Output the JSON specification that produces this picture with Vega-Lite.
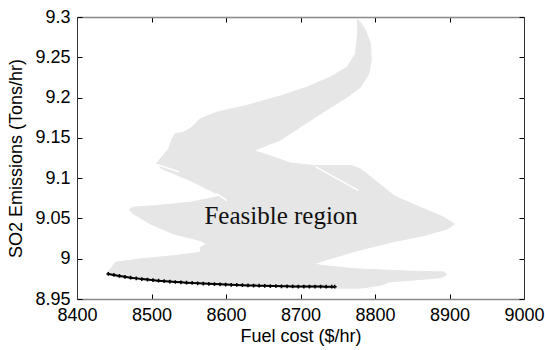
{
  "$schema": "https://vega.github.io/schema/vega-lite/v6.json",
  "width": 447,
  "height": 282,
  "autosize": {"type": "none"},
  "padding": {"left": 77, "top": 17, "right": 21, "bottom": 51},
  "background": "white",
  "config": {"view": {"stroke": null}},
  "datasets": {
    "region": [
      {"order": 1, "x": 8776.5, "y": 9.2978},
      {"order": 2, "x": 8776.9, "y": 9.2794},
      {"order": 3, "x": 8773.8, "y": 9.2545},
      {"order": 4, "x": 8762.7, "y": 9.2379},
      {"order": 5, "x": 8740.2, "y": 9.2254},
      {"order": 6, "x": 8708.9, "y": 9.2130},
      {"order": 7, "x": 8673.1, "y": 9.2021},
      {"order": 8, "x": 8628.3, "y": 9.1903},
      {"order": 9, "x": 8588.0, "y": 9.1819},
      {"order": 10, "x": 8565.6, "y": 9.1737},
      {"order": 11, "x": 8554.5, "y": 9.1633},
      {"order": 12, "x": 8543.2, "y": 9.1571},
      {"order": 13, "x": 8532.0, "y": 9.1551},
      {"order": 14, "x": 8527.6, "y": 9.1489},
      {"order": 15, "x": 8523.0, "y": 9.1364},
      {"order": 16, "x": 8511.9, "y": 9.1240},
      {"order": 17, "x": 8506.5, "y": 9.1178},
      {"order": 18, "x": 8514.2, "y": 9.1116},
      {"order": 19, "x": 8552.2, "y": 9.0970},
      {"order": 20, "x": 8588.0, "y": 9.0805},
      {"order": 21, "x": 8595.2, "y": 9.0784},
      {"order": 22, "x": 8583.5, "y": 9.0759},
      {"order": 23, "x": 8552.2, "y": 9.0701},
      {"order": 24, "x": 8507.5, "y": 9.0660},
      {"order": 25, "x": 8473.9, "y": 9.0638},
      {"order": 26, "x": 8470.2, "y": 9.0604},
      {"order": 27, "x": 8476.0, "y": 9.0556},
      {"order": 28, "x": 8498.5, "y": 9.0432},
      {"order": 29, "x": 8529.8, "y": 9.0308},
      {"order": 30, "x": 8565.6, "y": 9.0225},
      {"order": 31, "x": 8574.6, "y": 9.0184},
      {"order": 32, "x": 8565.6, "y": 9.0141},
      {"order": 33, "x": 8565.6, "y": 9.0079},
      {"order": 34, "x": 8529.8, "y": 9.0038},
      {"order": 35, "x": 8485.0, "y": 8.9997},
      {"order": 36, "x": 8451.4, "y": 8.9955},
      {"order": 37, "x": 8447.4, "y": 8.9901},
      {"order": 38, "x": 8439.4, "y": 8.9808},
      {"order": 39, "x": 8458.2, "y": 8.9759},
      {"order": 40, "x": 8511.9, "y": 8.9721},
      {"order": 41, "x": 8579.1, "y": 8.9684},
      {"order": 42, "x": 8646.2, "y": 8.9659},
      {"order": 43, "x": 8744.3, "y": 8.9634},
      {"order": 44, "x": 8780.5, "y": 8.9634},
      {"order": 45, "x": 8807.4, "y": 8.9672},
      {"order": 46, "x": 8820.8, "y": 8.9715},
      {"order": 47, "x": 8856.7, "y": 8.9740},
      {"order": 48, "x": 8888.0, "y": 8.9765},
      {"order": 49, "x": 8896.1, "y": 8.9802},
      {"order": 50, "x": 8892.4, "y": 8.9836},
      {"order": 51, "x": 8843.3, "y": 8.9846},
      {"order": 52, "x": 8776.1, "y": 8.9873},
      {"order": 53, "x": 8731.2, "y": 8.9914},
      {"order": 54, "x": 8717.8, "y": 8.9935},
      {"order": 55, "x": 8731.2, "y": 8.9976},
      {"order": 56, "x": 8776.1, "y": 9.0100},
      {"order": 57, "x": 8820.8, "y": 9.0203},
      {"order": 58, "x": 8865.6, "y": 9.0287},
      {"order": 59, "x": 8897.0, "y": 9.0370},
      {"order": 60, "x": 8906.8, "y": 9.0430},
      {"order": 61, "x": 8892.4, "y": 9.0514},
      {"order": 62, "x": 8865.6, "y": 9.0619},
      {"order": 63, "x": 8834.3, "y": 9.0743},
      {"order": 64, "x": 8825.3, "y": 9.0784},
      {"order": 65, "x": 8803.0, "y": 9.0949},
      {"order": 66, "x": 8780.5, "y": 9.1116},
      {"order": 67, "x": 8767.1, "y": 9.1157},
      {"order": 68, "x": 8717.8, "y": 9.1157},
      {"order": 69, "x": 8686.5, "y": 9.1188},
      {"order": 70, "x": 8659.6, "y": 9.1275},
      {"order": 71, "x": 8637.5, "y": 9.1343},
      {"order": 72, "x": 8673.1, "y": 9.1474},
      {"order": 73, "x": 8708.9, "y": 9.1691},
      {"order": 74, "x": 8740.2, "y": 9.1878},
      {"order": 75, "x": 8762.7, "y": 9.2006},
      {"order": 76, "x": 8780.5, "y": 9.2130},
      {"order": 77, "x": 8791.7, "y": 9.2297},
      {"order": 78, "x": 8794.9, "y": 9.2462},
      {"order": 79, "x": 8794.0, "y": 9.2669},
      {"order": 80, "x": 8787.2, "y": 9.2835},
      {"order": 81, "x": 8780.5, "y": 9.2934}
    ],
    "streaks": [
      {"seg": "a", "x": 8507, "y": 9.117},
      {"seg": "a", "x": 8537, "y": 9.108},
      {"seg": "b", "x": 8720, "y": 9.1144},
      {"seg": "b", "x": 8778, "y": 9.0846},
      {"seg": "c", "x": 8587, "y": 9.081},
      {"seg": "c", "x": 8601, "y": 9.072}
    ],
    "front": [
      {"x": 8442, "y": 8.9811},
      {"x": 8449.5, "y": 8.9798},
      {"x": 8457, "y": 8.9786},
      {"x": 8464.5, "y": 8.9775},
      {"x": 8472, "y": 8.9765},
      {"x": 8479.5, "y": 8.9756},
      {"x": 8487, "y": 8.9748},
      {"x": 8494.5, "y": 8.9741},
      {"x": 8502, "y": 8.9734},
      {"x": 8509.5, "y": 8.9727},
      {"x": 8517, "y": 8.9721},
      {"x": 8524.5, "y": 8.9716},
      {"x": 8532, "y": 8.9711},
      {"x": 8539.5, "y": 8.9707},
      {"x": 8547, "y": 8.9703},
      {"x": 8554.5, "y": 8.9699},
      {"x": 8562, "y": 8.9695},
      {"x": 8569.5, "y": 8.9691},
      {"x": 8577, "y": 8.9688},
      {"x": 8584.5, "y": 8.9685},
      {"x": 8592, "y": 8.9682},
      {"x": 8599.5, "y": 8.9679},
      {"x": 8607, "y": 8.9676},
      {"x": 8614.5, "y": 8.9674},
      {"x": 8622, "y": 8.9671},
      {"x": 8629.5, "y": 8.9669},
      {"x": 8637, "y": 8.9667},
      {"x": 8644.5, "y": 8.9665},
      {"x": 8652, "y": 8.9663},
      {"x": 8659.5, "y": 8.9661},
      {"x": 8667, "y": 8.966},
      {"x": 8674.5, "y": 8.9658},
      {"x": 8682, "y": 8.9657},
      {"x": 8689.5, "y": 8.9656},
      {"x": 8697, "y": 8.9655},
      {"x": 8704.5, "y": 8.9655},
      {"x": 8712, "y": 8.9654},
      {"x": 8719.5, "y": 8.9654},
      {"x": 8727, "y": 8.9654},
      {"x": 8734.5, "y": 8.9653},
      {"x": 8742, "y": 8.9653},
      {"x": 8746, "y": 8.9653}
    ],
    "label": [
      {"text": "Feasible region", "x": 8674, "y": 9.043}
    ]
  },
  "resolve": {"axis": {"x": "independent", "y": "independent"}},
  "layer": [
    {
      "data": {"name": "region"},
      "mark": {"type": "line", "fill": "#e6e6e6", "stroke": "#e6e6e6", "strokeWidth": 1},
      "encoding": {
        "x": {
          "field": "x", "type": "quantitative",
          "scale": {"domain": [8400, 9000], "nice": false, "zero": false},
          "axis": {
            "orient": "bottom", "title": "Fuel cost ($/hr)", "format": "d",
            "values": [8400, 8500, 8600, 8700, 8800, 8900, 9000],
            "grid": false, "tickSize": -5, "tickColor": "#000", "tickWidth": 1,
            "domainColor": "#888", "domainWidth": 1.5,
            "labelFont": "Liberation Sans", "labelFontSize": 18, "labelColor": "#000",
            "labelPadding": 12, "labelFlush": false, "labelOverlap": false,
            "titleFont": "Liberation Sans", "titleFontSize": 18, "titleFontWeight": "normal",
            "titleColor": "#000", "titlePadding": 3
          }
        },
        "y": {
          "field": "y", "type": "quantitative",
          "scale": {"domain": [8.95, 9.3], "nice": false, "zero": false},
          "axis": {
            "orient": "left", "title": "SO2 Emissions (Tons/hr)", "format": "~g",
            "values": [8.95, 9, 9.05, 9.1, 9.15, 9.2, 9.25, 9.3],
            "grid": false, "tickSize": -5, "tickColor": "#000", "tickWidth": 1,
            "domainColor": "#333", "domainWidth": 1,
            "labelFont": "Liberation Sans", "labelFontSize": 18, "labelColor": "#000",
            "labelPadding": 12, "labelFlush": false, "labelOverlap": false,
            "titleFont": "Liberation Sans", "titleFontSize": 18, "titleFontWeight": "normal",
            "titleColor": "#000", "titlePadding": 9
          }
        },
        "order": {"field": "order", "type": "quantitative"}
      }
    },
    {
      "data": {"name": "streaks"},
      "mark": {"type": "line", "stroke": "white", "strokeWidth": 1.5},
      "encoding": {
        "x": {
          "field": "x", "type": "quantitative",
          "scale": {"domain": [8400, 9000], "nice": false, "zero": false},
          "axis": {
            "orient": "top", "title": null, "labels": false,
            "values": [8400, 8500, 8600, 8700, 8800, 8900, 9000],
            "grid": false, "tickSize": -5, "tickColor": "#000", "tickWidth": 1,
            "domainColor": "#888", "domainWidth": 1.5
          }
        },
        "y": {
          "field": "y", "type": "quantitative",
          "scale": {"domain": [8.95, 9.3], "nice": false, "zero": false},
          "axis": {
            "orient": "right", "title": null, "labels": false,
            "values": [8.95, 9, 9.05, 9.1, 9.15, 9.2, 9.25, 9.3],
            "grid": false, "tickSize": -5, "tickColor": "#000", "tickWidth": 1,
            "domainColor": "#333", "domainWidth": 1
          }
        },
        "detail": {"field": "seg", "type": "nominal"}
      }
    },
    {
      "data": {"name": "front"},
      "mark": {"type": "line", "stroke": "black", "strokeWidth": 2},
      "encoding": {
        "x": {"field": "x", "type": "quantitative", "scale": {"domain": [8400, 9000], "nice": false, "zero": false}, "axis": null},
        "y": {"field": "y", "type": "quantitative", "scale": {"domain": [8.95, 9.3], "nice": false, "zero": false}, "axis": null}
      }
    },
    {
      "data": {"name": "front"},
      "mark": {"type": "point", "shape": "cross", "filled": true, "color": "black", "size": 14, "opacity": 1},
      "encoding": {
        "x": {"field": "x", "type": "quantitative", "scale": {"domain": [8400, 9000], "nice": false, "zero": false}, "axis": null},
        "y": {"field": "y", "type": "quantitative", "scale": {"domain": [8.95, 9.3], "nice": false, "zero": false}, "axis": null}
      }
    },
    {
      "data": {"name": "label"},
      "mark": {"type": "text", "font": "Liberation Serif", "fontSize": 25, "color": "#111", "align": "center", "baseline": "alphabetic"},
      "encoding": {
        "x": {"field": "x", "type": "quantitative", "scale": {"domain": [8400, 9000], "nice": false, "zero": false}, "axis": null},
        "y": {"field": "y", "type": "quantitative", "scale": {"domain": [8.95, 9.3], "nice": false, "zero": false}, "axis": null},
        "text": {"field": "text", "type": "nominal"}
      }
    }
  ]
}
